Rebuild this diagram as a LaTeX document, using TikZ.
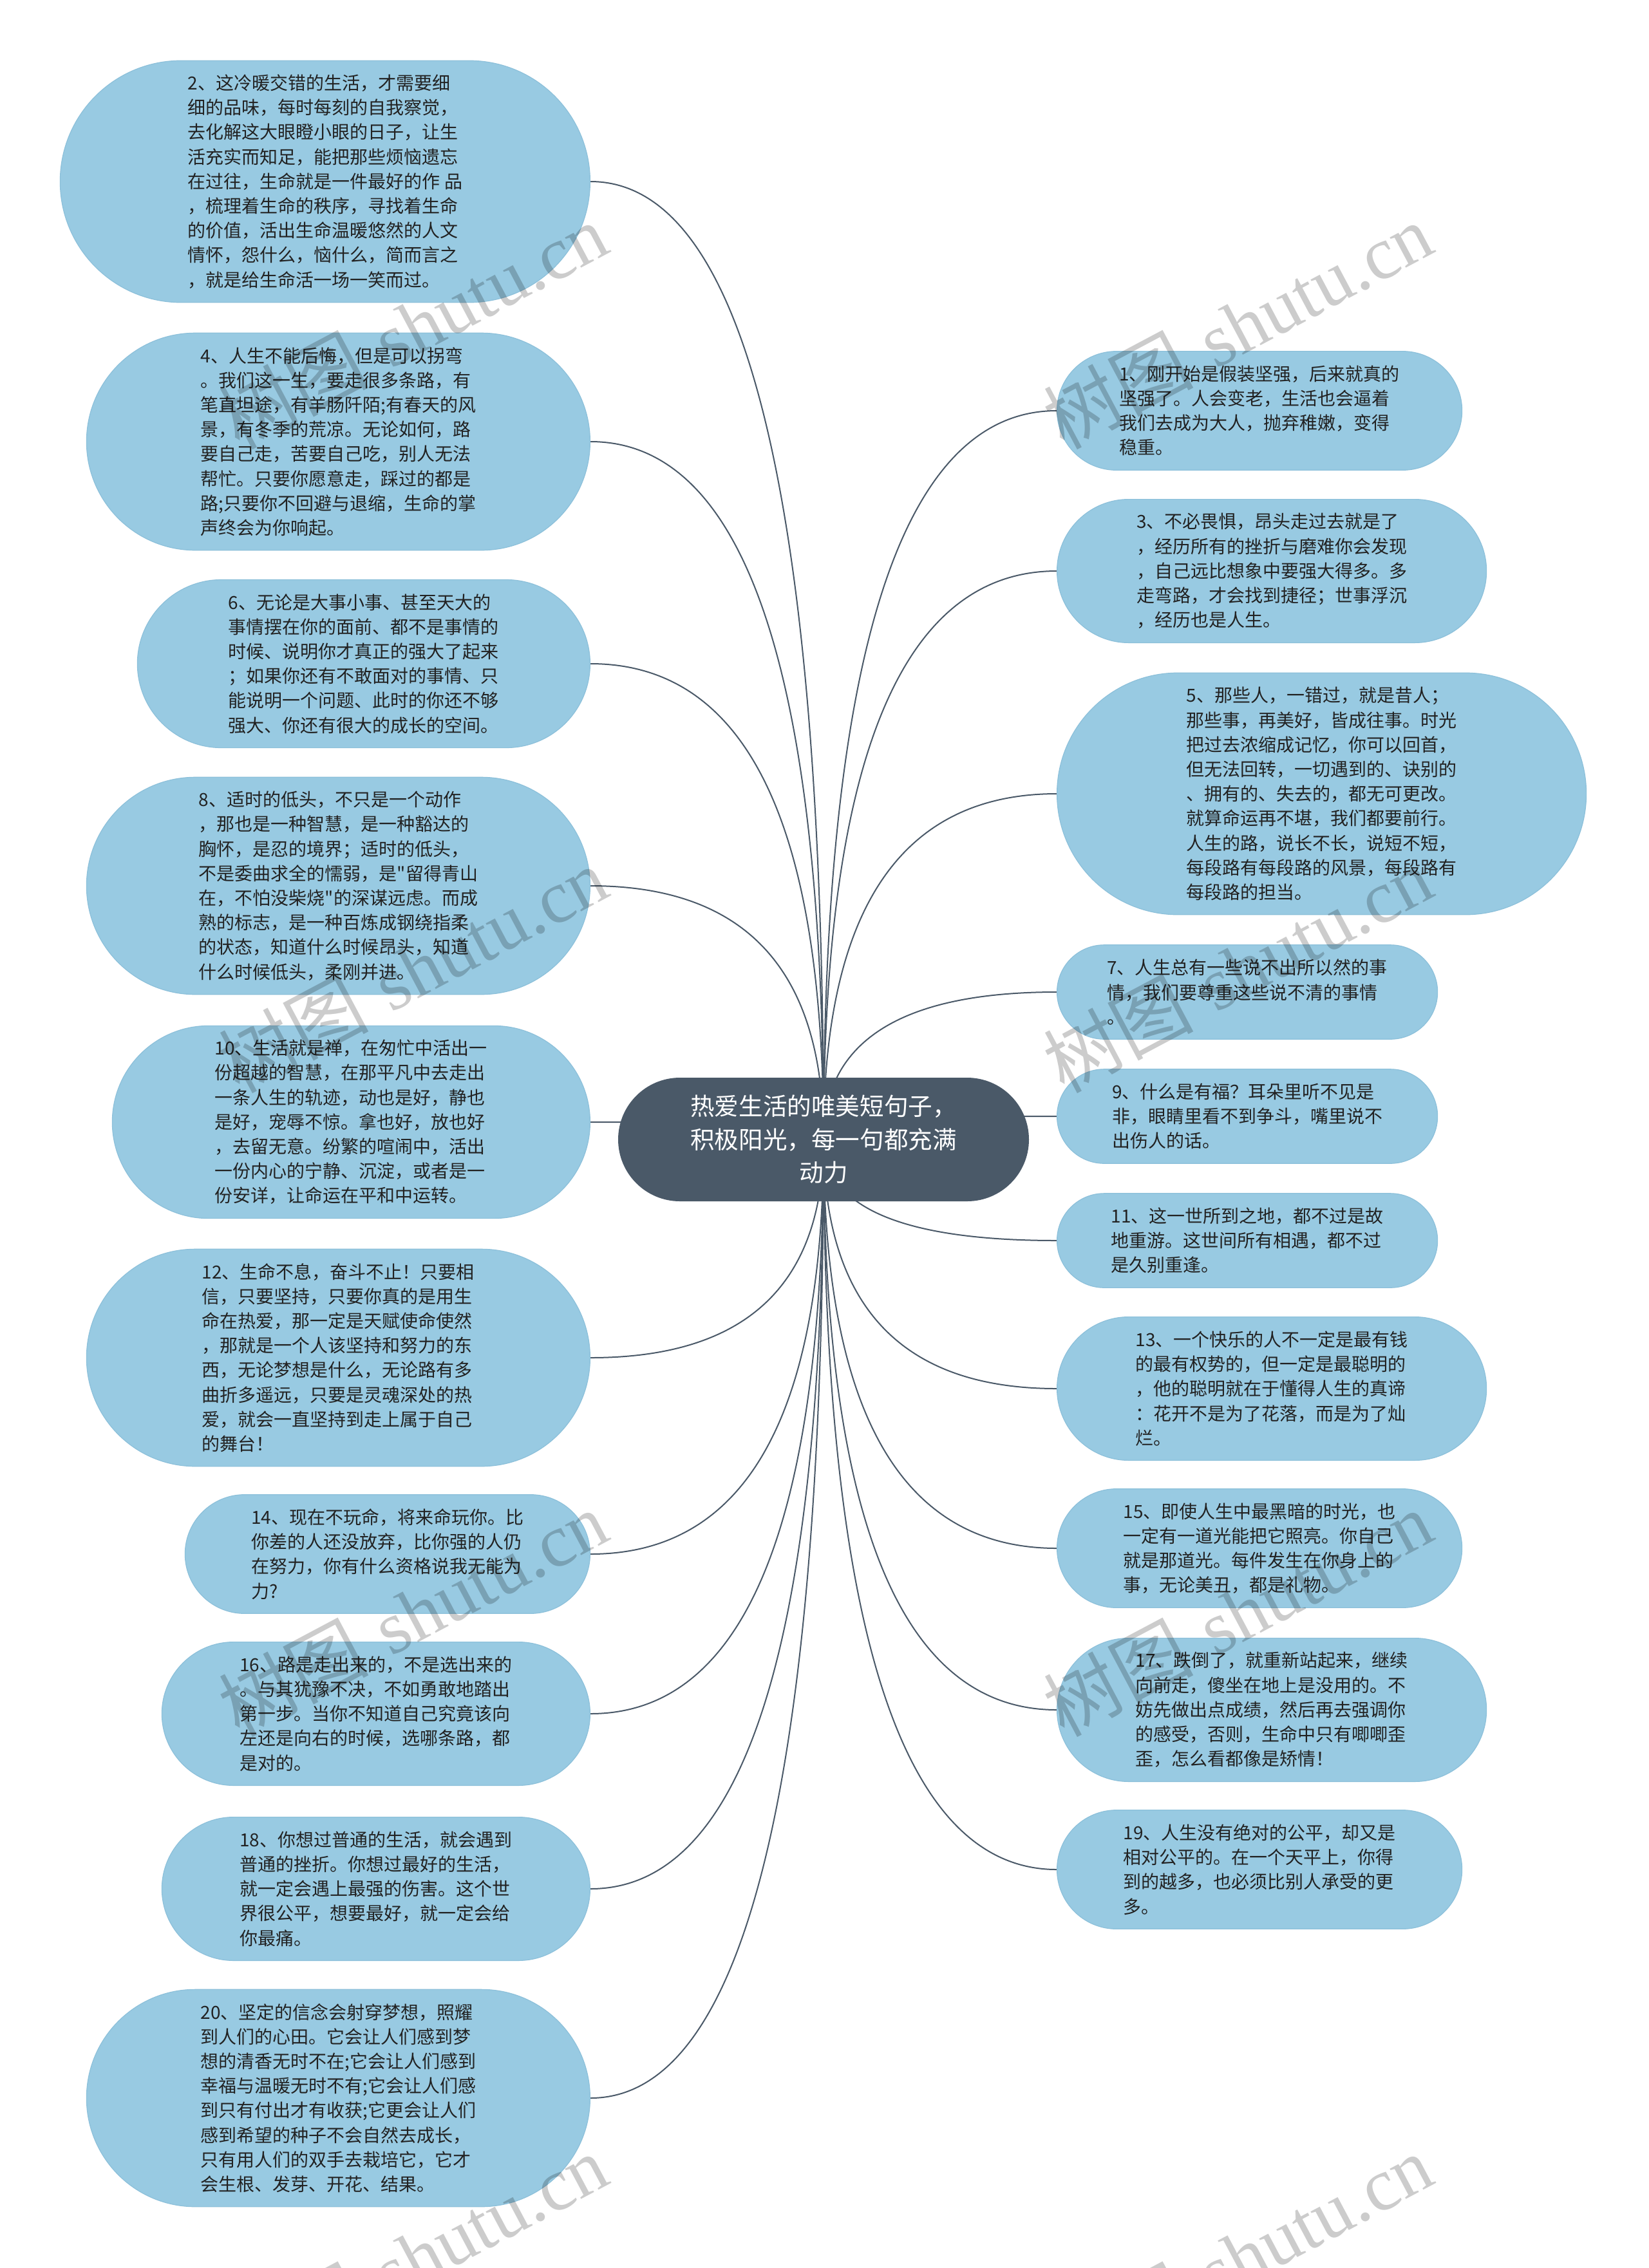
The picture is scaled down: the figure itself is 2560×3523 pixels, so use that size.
\documentclass[tikz,border=0pt]{standalone}
\usepackage{fontspec}
\newfontfamily\cjk{Noto Sans CJK SC}
\newfontfamily\wmlat{Liberation Serif}
\usetikzlibrary{calc,backgrounds}
\definecolor{bubfill}{HTML}{98CAE2}
\definecolor{bubline}{HTML}{8CC0DA}
\definecolor{cenfill}{HTML}{4A5968}
\definecolor{conn}{HTML}{4A5968}
\definecolor{txt}{HTML}{222222}
\tikzset{
  bub/.style={draw=bubline, fill=bubfill, line width=0.6pt, minimum width=#1, inner sep=0pt,
    align=left, text=txt, font=\cjk\fontsize{14pt}{19.1pt}\selectfont},
  ln3/.style={minimum height=73.2pt, rounded corners=36.6pt},
  ln4/.style={minimum height=92.3pt, rounded corners=46.15pt},
  ln5/.style={minimum height=111.4pt, rounded corners=55.7pt},
  ln6/.style={minimum height=130.5pt, rounded corners=65.25pt},
  ln7/.style={minimum height=149.6pt, rounded corners=74.8pt},
  ln8/.style={minimum height=168.7pt, rounded corners=84.35pt},
  ln9/.style={minimum height=187.8pt, rounded corners=93.9pt},
  lside/.style={anchor=east},
  rside/.style={anchor=west},
  cen/.style={fill=cenfill, text=white, minimum width=319pt, minimum height=96pt,
    rounded corners=48pt, align=center, inner sep=0pt, font=\cjk\fontsize{18.8pt}{25.8pt}\selectfont},
  link/.style={draw=conn, line width=1pt},
  wm/.style={rotate=28, text=black, opacity=0.2, inner sep=0pt, font=\fontsize{58pt}{60pt}\selectfont}
}
\begin{document}
\begin{tikzpicture}[x=0.5pt,y=-0.5pt]
\useasboundingbox (0,0) rectangle (2560,3523);

\node[cen] (c) at (1279,1770) {热爱生活的唯美短句子，\\积极阳光，每一句都充满\\动力};

% left side
\node[bub=411.5pt, ln9, lside] (L2) at (917,282) {2、这冷暖交错的生活，才需要细\\细的品味，每时每刻的自我察觉，\\去化解这大眼瞪小眼的日子，让生\\活充实而知足，能把那些烦恼遗忘\\在过往，生命就是一件最好的作 品\\，梳理着生命的秩序，寻找着生命\\的价值，活出生命温暖悠然的人文\\情怀，怨什么，恼什么，简而言之\\，就是给生命活一场一笑而过。};
\node[bub=391pt, ln8, lside] (L4) at (917,686) {4、人生不能后悔，但是可以拐弯\\。我们这一生，要走很多条路，有\\笔直坦途，有羊肠阡陌;有春天的风\\景，有冬季的荒凉。无论如何，路\\要自己走，苦要自己吃，别人无法\\帮忙。只要你愿意走，踩过的都是\\路;只要你不回避与退缩，生命的掌\\声终会为你响起。};
\node[bub=351.5pt, ln6, lside] (L6) at (917,1031) {6、无论是大事小事、甚至天大的\\事情摆在你的面前、都不是事情的\\时候、说明你才真正的强大了起来\\；如果你还有不敢面对的事情、只\\能说明一个问题、此时的你还不够\\强大、你还有很大的成长的空间。};
\node[bub=391pt, ln8, lside] (L8) at (917,1376) {8、适时的低头，不只是一个动作\\，那也是一种智慧，是一种豁达的\\胸怀，是忍的境界；适时的低头，\\不是委曲求全的懦弱，是"留得青山\\在，不怕没柴烧"的深谋远虑。而成\\熟的标志，是一种百炼成钢绕指柔\\的状态，知道什么时候昂头，知道\\什么时候低头，柔刚并进。};
\node[bub=371pt, ln7, lside] (L10) at (917,1743) {10、生活就是禅，在匆忙中活出一\\份超越的智慧，在那平凡中去走出\\一条人生的轨迹，动也是好，静也\\是好，宠辱不惊。拿也好，放也好\\，去留无意。纷繁的喧闹中，活出\\一份内心的宁静、沉淀，或者是一\\份安详，让命运在平和中运转。};
\node[bub=391pt, ln8, lside] (L12) at (917,2109) {12、生命不息，奋斗不止！只要相\\信，只要坚持，只要你真的是用生\\命在热爱，那一定是天赋使命使然\\，那就是一个人该坚持和努力的东\\西，无论梦想是什么，无论路有多\\曲折多遥远，只要是灵魂深处的热\\爱，就会一直坚持到走上属于自己\\的舞台！};
\node[bub=314.5pt, ln4, lside] (L14) at (917,2414) {14、现在不玩命，将来命玩你。比\\你差的人还没放弃，比你强的人仍\\在努力，你有什么资格说我无能为\\力?};
\node[bub=332.5pt, ln5, lside] (L16) at (917,2662) {16、路是走出来的，不是选出来的\\。与其犹豫不决，不如勇敢地踏出\\第一步。当你不知道自己究竟该向\\左还是向右的时候，选哪条路，都\\是对的。};
\node[bub=332.5pt, ln5, lside] (L18) at (917,2934) {18、你想过普通的生活，就会遇到\\普通的挫折。你想过最好的生活，\\就一定会遇上最强的伤害。这个世\\界很公平，想要最好，就一定会给\\你最痛。};
\node[bub=391pt, ln8, lside] (L20) at (917,3259) {20、坚定的信念会射穿梦想，照耀\\到人们的心田。它会让人们感到梦\\想的清香无时不在;它会让人们感到\\幸福与温暖无时不有;它会让人们感\\到只有付出才有收获;它更会让人们\\感到希望的种子不会自然去成长，\\只有用人们的双手去栽培它，它才\\会生根、发芽、开花、结果。};

% right side
\node[bub=314.5pt, ln4, rside] (R1) at (1641,638) {1、刚开始是假装坚强，后来就真的\\坚强了。人会变老，生活也会逼着\\我们去成为大人，抛弃稚嫩，变得\\稳重。};
\node[bub=333.5pt, ln5, rside] (R3) at (1641,887) {3、不必畏惧，昂头走过去就是了\\，经历所有的挫折与磨难你会发现\\，自己远比想象中要强大得多。多\\走弯路，才会找到捷径；世事浮沉\\，经历也是人生。};
\node[bub=411pt, ln9, rside] (R5) at (1641,1233) {5、那些人，一错过，就是昔人；\\那些事，再美好，皆成往事。时光\\把过去浓缩成记忆，你可以回首，\\但无法回转，一切遇到的、诀别的\\、拥有的、失去的，都无可更改。\\就算命运再不堪，我们都要前行。\\人生的路，说长不长，说短不短，\\每段路有每段路的风景，每段路有\\每段路的担当。};
\node[bub=295.5pt, ln3, rside] (R7) at (1641,1541) {7、人生总有一些说不出所以然的事\\情，我们要尊重这些说不清的事情\\。};
\node[bub=295.5pt, ln3, rside] (R9) at (1641,1734) {9、什么是有福？耳朵里听不见是\\非，眼睛里看不到争斗，嘴里说不\\出伤人的话。};
\node[bub=295.5pt, ln3, rside] (R11) at (1641,1927) {11、这一世所到之地，都不过是故\\地重游。这世间所有相遇，都不过\\是久别重逢。};
\node[bub=333.5pt, ln5, rside] (R13) at (1641,2157) {13、一个快乐的人不一定是最有钱\\的最有权势的，但一定是最聪明的\\，他的聪明就在于懂得人生的真谛\\：花开不是为了花落，而是为了灿\\烂。};
\node[bub=314.5pt, ln4, rside] (R15) at (1641,2405) {15、即使人生中最黑暗的时光，也\\一定有一道光能把它照亮。你自己\\就是那道光。每件发生在你身上的\\事，无论美丑，都是礼物。};
\node[bub=333.5pt, ln5, rside] (R17) at (1641,2656) {17、跌倒了，就重新站起来，继续\\向前走，傻坐在地上是没用的。不\\妨先做出点成绩，然后再去强调你\\的感受，否则，生命中只有唧唧歪\\歪，怎么看都像是矫情！};
\node[bub=314.5pt, ln4, rside] (R19) at (1641,2904) {19、人生没有绝对的公平，却又是\\相对公平的。在一个天平上，你得\\到的越多，也必须比别人承受的更\\多。};

\begin{pgfonlayer}{background}
\fill[white] (0,0) rectangle (2560,3523);
\foreach \n in {L2,L4,L6,L8,L10,L12,L14,L16,L18,L20} {
  \draw[link] (c.center) .. controls ($(c.center)!0.6667!(c.center|-\n.east)$) and ($(\n.east)!0.6667!(c.center|-\n.east)$) .. (\n.east);
}
\foreach \n in {R1,R3,R5,R7,R9,R11,R13,R15,R17,R19} {
  \draw[link] (c.center) .. controls ($(c.center)!0.6667!(c.center|-\n.west)$) and ($(\n.west)!0.6667!(c.center|-\n.west)$) .. (\n.west);
}
\end{pgfonlayer}

% watermarks
\node[wm] (w1) at (641,506) {{\cjk 树图} {\wmlat shutu.cn}};
\node[wm] (w2) at (1922,506) {{\cjk 树图} {\wmlat shutu.cn}};
\node[wm] (w3) at (641,1506) {{\cjk 树图} {\wmlat shutu.cn}};
\node[wm] (w4) at (1922,1506) {{\cjk 树图} {\wmlat shutu.cn}};
\node[wm] (w5) at (641,2506) {{\cjk 树图} {\wmlat shutu.cn}};
\node[wm] (w6) at (1922,2506) {{\cjk 树图} {\wmlat shutu.cn}};
\node[wm] (w7) at (641,3506) {{\cjk 树图} {\wmlat shutu.cn}};
\node[wm] (w8) at (1922,3506) {{\cjk 树图} {\wmlat shutu.cn}};
\end{tikzpicture}
\end{document}
